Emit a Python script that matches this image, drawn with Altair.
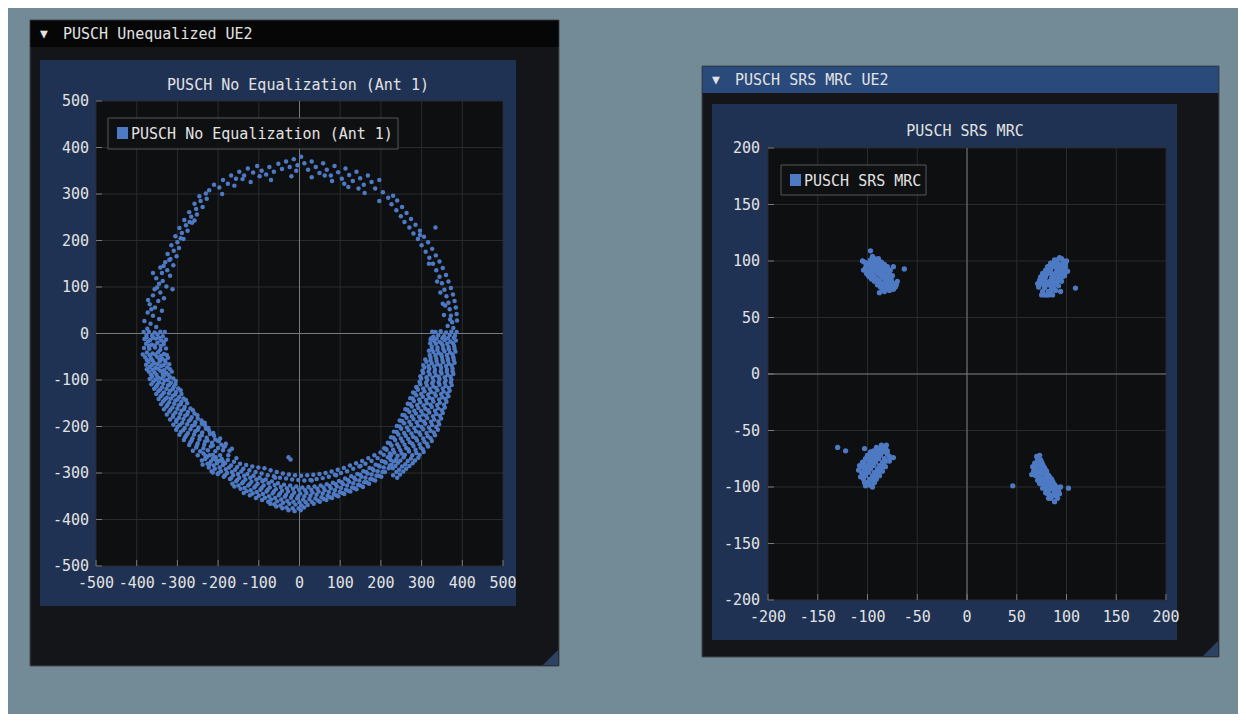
import altair as alt
import pandas as pd

# ---------------- data ----------------
left_ticks = [-500, -400, -300, -200, -100, 0, 100, 200, 300, 400, 500]
right_ticks = [-200, -150, -100, -50, 0, 50, 100, 150, 200]

ring_upper_left = [
    [-374, 10], [-352, 14], [-366, 21], [-381, 27], [-345, 31], [-360, 38], [-373, 45], [-338, 49],
    [-355, 56], [-368, 63], [-347, 70], [-333, 76], [-360, 82], [-342, 88], [-356, 95], [-327, 101],
    [-345, 107], [-336, 113], [-352, 119], [-318, 124], [-338, 130], [-325, 136], [-342, 142], [-310, 147],
    [-330, 153], [-317, 160], [-302, 166], [-324, 171], [-309, 178], [-296, 184], [-315, 190], [-300, 196],
    [-285, 203], [-305, 209], [-289, 216], [-275, 221], [-295, 227], [-279, 233], [-264, 238], [-283, 244],
    [-266, 251], [-252, 256], [-271, 261], [-254, 268], [-238, 272], [-258, 279], [-243, 285], [-228, 290],
    [-246, 295], [-230, 301], [-258, 243], [-312, 95], [-372, 72], [-360, 130], [-364, 52], [-350, 99],
    [-334, 145], [-320, 158], [-292, 205], [-270, 240],
]
ring_top = [
    [-222, 308], [-210, 320], [-197, 314], [-188, 330], [-176, 322], [-168, 340], [-156, 333], [-148, 348],
    [-136, 340], [-127, 355], [-114, 346], [-104, 360], [-93, 350], [-82, 342], [-74, 358], [-63, 348],
    [-52, 365], [-43, 354], [-33, 370], [-24, 358], [-14, 375], [-5, 362], [4, 380], [12, 366],
    [21, 352], [30, 370], [40, 358], [49, 345], [58, 366], [67, 352], [77, 340], [86, 360],
    [95, 347], [104, 333], [113, 355], [122, 341], [131, 328], [140, 348], [149, 334], [158, 320],
    [168, 340], [177, 326], [186, 312], [196, 330], [-160, 318], [-120, 326], [-70, 330], [-20, 338],
    [30, 336], [80, 328], [120, 315], [160, 302], [-190, 300], [-140, 332], [-98, 338], [-8, 350],
    [62, 340], [110, 322], [145, 312],
]
ring_upper_right = [
    [205, 304], [218, 292], [196, 285], [230, 296], [226, 278], [240, 286], [238, 265], [252, 272],
    [249, 252], [263, 259], [258, 240], [274, 246], [270, 228], [285, 234], [280, 215], [296, 221],
    [291, 203], [306, 208], [300, 190], [316, 196], [310, 176], [326, 182], [319, 163], [335, 168],
    [328, 150], [344, 155], [336, 136], [352, 141], [344, 122], [360, 126], [350, 108], [366, 112],
    [356, 94], [372, 98], [361, 80], [377, 84], [366, 66], [381, 70], [369, 52], [384, 56],
    [372, 38], [386, 42], [375, 24], [387, 28], [378, 12], [364, 16], [352, 64], [346, 88],
    [355, 40], [338, 112], [334, 228], [296, 212], [318, 150], [358, 60], [370, 30],
]
ring_lower_left = [
    [-383, 3], [-370, 4], [-356, 2], [-342, 4], [-331, 3], [-376, -3], [-362, -5], [-349, -2], [-336, -6],
    [-381, -12], [-367, -14], [-353, -11], [-340, -15], [-328, -13],
    [-377, -22], [-363, -24], [-349, -20], [-334, -23],
    [-382, -31], [-369, -33], [-355, -30], [-342, -35], [-328, -32],
    [-375, -41], [-361, -43], [-347, -40], [-333, -44],
    [-379, -51], [-365, -53], [-350, -50], [-337, -55], [-323, -52],
    [-371, -61], [-357, -64], [-343, -60], [-329, -63],
    [-368, -72], [-354, -74], [-340, -70], [-325, -73],
    [-370, -82], [-356, -84], [-342, -80], [-327, -85], [-314, -82],
    [-362, -93], [-347, -95], [-333, -91], [-318, -94],
    [-359, -103], [-345, -105], [-331, -101], [-316, -106], [-304, -102],
    [-352, -114], [-338, -116], [-323, -112], [-309, -115],
    [-347, -124], [-333, -127], [-318, -123], [-303, -126], [-292, -122],
    [-341, -135], [-326, -138], [-311, -134], [-296, -137],
    [-335, -146], [-320, -148], [-305, -144], [-290, -147], [-279, -143],
    [-327, -157], [-312, -159], [-297, -155], [-282, -158],
    [-320, -168], [-305, -170], [-290, -166], [-274, -169], [-262, -165],
    [-311, -179], [-296, -181], [-281, -177], [-265, -180], [-251, -176],
    [-303, -190], [-288, -192], [-272, -188], [-256, -191], [-241, -187],
    [-300, -201], [-282, -203], [-264, -199], [-248, -202], [-232, -198],
    [-292, -212], [-274, -214], [-256, -210], [-239, -213], [-222, -209],
    [-281, -223], [-263, -225], [-245, -221], [-228, -224], [-210, -220], [-195, -226],
    [-268, -234], [-250, -236], [-232, -232], [-215, -235], [-198, -231], [-181, -237],
    [-254, -245], [-236, -247], [-218, -243], [-200, -246], [-183, -242], [-166, -248],
]
ring_lower_left_fill = [
    [-376, -8], [-360, -9], [-345, -9], [-333, -18], [-372, -17], [-356, -26], [-370, -27], [-341, -27],
    [-385, -45], [-368, -47], [-354, -45], [-340, -48], [-326, -46], [-375, -57], [-361, -58], [-344, -56],
    [-330, -58], [-377, -67], [-363, -68], [-349, -66], [-334, -68], [-320, -66], [-375, -77], [-361, -78],
    [-347, -76], [-333, -79], [-318, -77], [-365, -88], [-351, -89], [-336, -87], [-322, -89], [-368, -98],
    [-353, -99], [-339, -97], [-324, -100], [-310, -97], [-364, -109], [-349, -110], [-335, -108], [-320, -110],
    [-305, -109], [-357, -119], [-343, -121], [-327, -119], [-312, -120], [-298, -118], [-352, -130], [-337, -131],
    [-321, -129], [-306, -131], [-290, -130], [-346, -141], [-331, -142], [-316, -140], [-300, -142], [-285, -140],
    [-340, -152], [-324, -153], [-308, -151], [-292, -152], [-276, -150], [-333, -163], [-317, -164], [-300, -162],
    [-284, -163], [-268, -161], [-326, -174], [-310, -175], [-293, -173], [-276, -174], [-258, -172], [-318, -185],
    [-302, -186], [-285, -184], [-268, -185], [-250, -183], [-233, -192], [-310, -196], [-294, -197], [-276, -195],
    [-258, -196], [-240, -194], [-224, -203], [-303, -207], [-286, -208], [-268, -206], [-250, -207], [-230, -205],
    [-212, -214], [-295, -218], [-278, -219], [-259, -217], [-240, -219], [-220, -216], [-200, -231], [-284, -229],
    [-265, -230], [-246, -228], [-226, -230], [-207, -228], [-186, -244], [-271, -240], [-252, -241], [-234, -239],
    [-213, -241], [-192, -239], [-172, -252], [-262, -252], [-244, -253], [-225, -251], [-207, -253], [-188, -251],
    [-250, -262], [-231, -263], [-213, -261], [-195, -262], [-175, -262], [-240, -273], [-221, -281], [-205, -272],
    [-188, -275], [-155, -268],
]
ring_bottom = [
    [-236, -258], [-232, -270], [-238, -282],
    [-221, -262], [-218, -275], [-223, -288], [-216, -296],
    [-206, -266], [-203, -279], [-208, -291], [-201, -302],
    [-191, -270], [-188, -283], [-193, -296], [-186, -308],
    [-176, -272], [-173, -288], [-178, -300], [-171, -313],
    [-161, -276], [-158, -293], [-163, -305], [-156, -318], [-160, -329],
    [-146, -280], [-143, -297], [-148, -310], [-141, -322], [-145, -334],
    [-131, -283], [-128, -302], [-133, -314], [-126, -327], [-130, -339],
    [-116, -286], [-113, -306], [-118, -319], [-111, -331], [-115, -344],
    [-101, -288], [-98, -310], [-103, -323], [-96, -336], [-100, -349],
    [-86, -290], [-83, -314], [-88, -327], [-81, -340], [-85, -353],
    [-71, -294], [-68, -318], [-73, -331], [-66, -344], [-70, -357], [-72, -366],
    [-56, -298], [-53, -322], [-58, -335], [-51, -348], [-55, -361], [-57, -372],
    [-41, -301], [-38, -325], [-43, -338], [-36, -351], [-40, -364], [-42, -376],
    [-26, -303], [-23, -327], [-28, -340], [-21, -353], [-25, -366], [-27, -380],
    [-11, -305], [-8, -329], [-13, -342], [-6, -355], [-10, -368], [-12, -382],
    [4, -306], [7, -331], [2, -344], [9, -357], [5, -370], [3, -380],
    [19, -305], [22, -330], [17, -343], [24, -356], [20, -369],
    [34, -304], [37, -329], [32, -342], [39, -355], [35, -366],
    [49, -302], [52, -327], [47, -340], [54, -352], [50, -362],
    [64, -300], [67, -324], [62, -337], [69, -349], [66, -358],
    [79, -297], [82, -321], [77, -333], [84, -345], [80, -354],
    [94, -293], [97, -317], [92, -329], [99, -341], [95, -350],
    [109, -289], [112, -312], [107, -324], [114, -336], [110, -345],
    [124, -284], [127, -307], [122, -319], [129, -331], [125, -340],
    [139, -279], [142, -302], [137, -314], [144, -326], [140, -335],
    [154, -274], [157, -296], [152, -308], [159, -320], [156, -330],
    [169, -268], [172, -289], [167, -301], [174, -313], [171, -323],
    [184, -262], [187, -282], [182, -294], [189, -306], [186, -316],
    [199, -256], [202, -274], [197, -286], [204, -298], [201, -308],
    [214, -250], [217, -266], [212, -278], [219, -290],
    [-22, -271], [-27, -266], [-90, -316], [-60, -310], [30, -316], [90, -305], [150, -285],
]
ring_bottom_fill = [
    [-228, -266], [-226, -280], [-213, -270], [-211, -284], [-213, -299], [-198, -274], [-196, -288], [-199, -300],
    [-183, -279], [-181, -292], [-183, -305], [-168, -284], [-166, -298], [-168, -311], [-165, -323], [-153, -287],
    [-151, -302], [-153, -315], [-150, -327], [-138, -291], [-136, -306], [-138, -319], [-135, -332], [-137, -343],
    [-123, -294], [-121, -310], [-123, -324], [-120, -337], [-122, -348], [-108, -298], [-106, -314], [-108, -328],
    [-105, -341], [-107, -354], [-93, -301], [-91, -318], [-93, -332], [-90, -345], [-92, -358], [-78, -305],
    [-76, -322], [-78, -336], [-75, -350], [-77, -362], [-63, -307], [-61, -326], [-63, -340], [-60, -354],
    [-62, -367], [-48, -310], [-46, -330], [-48, -344], [-45, -357], [-47, -370], [-33, -312], [-31, -333],
    [-33, -347], [-30, -360], [-32, -374], [-18, -314], [-16, -334], [-18, -348], [-15, -362], [-17, -376],
    [-3, -315], [-1, -336], [-3, -350], [0, -363], [-2, -376], [12, -316], [14, -337], [12, -350],
    [15, -363], [11, -374], [27, -315], [29, -336], [27, -349], [30, -362], [42, -313], [44, -334],
    [42, -347], [45, -359], [57, -311], [59, -331], [57, -344], [60, -356], [72, -308], [74, -328],
    [72, -341], [75, -352], [87, -304], [89, -324], [87, -337], [90, -348], [102, -300], [104, -320],
    [102, -332], [105, -343], [117, -296], [119, -315], [117, -327], [120, -338], [132, -291], [134, -310],
    [132, -322], [135, -333], [147, -286], [149, -304], [147, -316], [150, -327], [162, -280], [164, -298],
    [162, -310], [165, -320], [177, -274], [179, -291], [177, -303], [180, -314], [192, -268], [194, -284],
    [192, -296], [195, -306], [207, -261], [209, -276], [207, -288], [210, -298], [222, -258], [224, -272],
    [222, -284],
]
ring_lower_right = [
    [386, 3], [373, 4], [360, 2], [347, 5], [334, 3], [326, 4],
    [382, -5], [369, -3], [355, -6], [341, -4], [329, -7],
    [384, -15], [371, -17], [357, -14], [344, -18], [331, -16], [322, -13],
    [380, -27], [366, -29], [352, -26], [339, -30], [325, -28],
    [383, -39], [370, -41], [356, -38], [342, -42], [329, -40], [318, -37],
    [378, -51], [364, -53], [350, -50], [336, -54], [322, -52],
    [381, -63], [367, -65], [353, -62], [339, -66], [325, -64], [312, -61],
    [376, -75], [362, -77], [348, -74], [333, -78], [319, -76], [307, -73],
    [378, -87], [364, -89], [349, -86], [335, -90], [320, -88], [304, -85],
    [373, -99], [359, -101], [344, -98], [329, -102], [314, -100], [299, -97],
    [374, -111], [359, -113], [344, -110], [329, -114], [313, -112], [297, -109], [287, -115],
    [369, -123], [354, -125], [339, -122], [323, -126], [307, -124], [291, -121], [279, -127],
    [366, -135], [351, -137], [335, -134], [319, -138], [303, -136], [287, -133], [272, -139],
    [361, -147], [345, -149], [329, -146], [313, -150], [297, -148], [281, -145], [266, -151],
    [357, -159], [341, -161], [325, -158], [309, -162], [292, -160], [276, -157], [260, -163],
    [352, -171], [336, -173], [319, -170], [303, -174], [286, -172], [270, -169], [253, -175],
    [348, -183], [331, -185], [314, -182], [297, -186], [280, -184], [263, -181], [246, -187],
    [343, -195], [326, -197], [309, -194], [291, -198], [274, -196], [257, -193], [239, -199],
    [340, -207], [322, -209], [304, -206], [286, -210], [268, -208], [250, -205], [232, -211],
    [333, -219], [315, -221], [297, -218], [279, -222], [261, -220], [243, -217], [225, -223],
    [325, -231], [307, -233], [289, -230], [271, -234], [253, -232], [235, -229], [217, -235],
    [316, -243], [298, -245], [280, -242], [262, -246], [244, -244], [226, -241], [208, -247],
    [305, -255], [287, -257], [269, -254], [251, -258], [233, -256],
    [292, -267], [274, -269], [256, -266], [238, -270], [222, -268],
    [278, -279], [260, -281], [242, -278], [226, -282],
    [262, -291], [245, -293], [229, -290],
    [247, -303], [230, -305],
]
ring_lower_right_fill = [
    [379, -9], [365, -10], [351, -10], [337, -11], [324, -10], [377, -21], [363, -22], [349, -21],
    [335, -22], [321, -21], [381, -33], [367, -34], [353, -33], [339, -35], [325, -34], [376, -45],
    [362, -46], [348, -45], [334, -47], [320, -46], [379, -57], [365, -58], [351, -57], [337, -59],
    [322, -58], [309, -56], [374, -69], [360, -70], [346, -69], [331, -71], [317, -70], [304, -68],
    [376, -81], [362, -82], [347, -81], [332, -83], [317, -82], [302, -80], [371, -93], [357, -94],
    [342, -93], [327, -95], [312, -94], [297, -92], [372, -105], [357, -106], [342, -105], [326, -107],
    [311, -106], [295, -104], [367, -117], [352, -118], [336, -117], [320, -119], [304, -118], [288, -116],
    [363, -129], [348, -130], [332, -129], [316, -131], [299, -130], [283, -128], [359, -141], [343, -142],
    [327, -141], [311, -143], [294, -142], [278, -140], [355, -153], [338, -154], [322, -153], [305, -155],
    [289, -154], [272, -152], [350, -165], [333, -166], [316, -165], [299, -167], [282, -166], [265, -164],
    [345, -177], [328, -178], [311, -177], [294, -179], [276, -178], [258, -176], [341, -189], [323, -190],
    [306, -189], [288, -191], [270, -190], [252, -188], [336, -201], [318, -202], [300, -201], [282, -203],
    [264, -202], [246, -200], [330, -213], [312, -214], [294, -213], [275, -215], [257, -214], [239, -212],
    [322, -225], [304, -226], [286, -225], [267, -227], [249, -226], [231, -224], [313, -237], [295, -238],
    [277, -237], [258, -239], [240, -238], [222, -236], [303, -249], [285, -250], [267, -249], [248, -251],
    [230, -250], [212, -248], [295, -261], [277, -262], [259, -261], [241, -263], [225, -262], [284, -273],
    [266, -274], [248, -273], [232, -275], [270, -285], [252, -286], [236, -285], [255, -297], [238, -298],
    [240, -310],
]

mrc_top_left = [
    [-100, 98], [-97, 95], [-94, 93], [-91, 90], [-88, 88], [-85, 85], [-82, 82], [-79, 80], [-76, 77], [-74, 75],
    [-97, 101], [-94, 99], [-91, 96], [-88, 93], [-85, 91], [-82, 88], [-79, 86], [-76, 83], [-73, 80],
    [-102, 94], [-99, 91], [-96, 89], [-93, 86], [-90, 84], [-87, 81], [-84, 79], [-81, 76], [-78, 74],
    [-93, 102], [-90, 99], [-87, 97], [-84, 94], [-81, 92], [-78, 89],
    [-99, 87], [-96, 84], [-93, 82], [-90, 79], [-87, 77], [-83, 73],
    [-103, 99], [-101, 96], [-98, 98], [-95, 96], [-92, 93], [-89, 91], [-86, 88], [-83, 86], [-80, 83],
    [-77, 80], [-75, 78], [-72, 77], [-95, 104], [-92, 101], [-89, 102], [-86, 99], [-83, 97], [-80, 95],
    [-77, 92], [-75, 87], [-101, 89], [-98, 86], [-95, 87], [-92, 84], [-89, 82], [-86, 79], [-83, 77],
    [-80, 78], [-85, 75], [-104, 92], [-71, 79], [-96, 92],
    [-97, 109], [-74, 95], [-63, 93], [-88, 72], [-105, 100], [-70, 82],
]
mrc_top_right = [
    [76, 73], [78, 76], [80, 79], [83, 82], [85, 85], [87, 88], [90, 91], [92, 94], [94, 97], [97, 100],
    [72, 77], [74, 80], [77, 83], [79, 86], [81, 89], [84, 92], [86, 95], [89, 98], [91, 101],
    [80, 70], [82, 73], [85, 76], [87, 79], [89, 82], [92, 85], [94, 88], [97, 91], [99, 95],
    [74, 86], [76, 89], [79, 92], [81, 95], [84, 98],
    [86, 70], [89, 74], [92, 78], [95, 82], [98, 87], [101, 91],
    [75, 70], [77, 79], [79, 82], [82, 79], [84, 82], [86, 82], [88, 85], [91, 88], [93, 91], [95, 94],
    [96, 97], [99, 98], [73, 83], [75, 83], [78, 89], [80, 92], [83, 95], [86, 98], [88, 101], [82, 70],
    [84, 73], [87, 76], [90, 80], [93, 83], [96, 86], [99, 90], [71, 80], [78, 70], [95, 102], [89, 95],
    [91, 97], [85, 89],
    [109, 76], [94, 73], [93, 103], [100, 100],
]
mrc_bottom_left = [
    [-104, -93], [-102, -90], [-99, -87], [-97, -84], [-94, -81], [-92, -78], [-89, -75], [-87, -72], [-84, -69], [-82, -66],
    [-106, -87], [-103, -84], [-101, -81], [-98, -78], [-96, -75], [-93, -72], [-91, -69], [-88, -66], [-86, -63],
    [-100, -96], [-98, -93], [-95, -90], [-93, -87], [-90, -84], [-88, -81], [-85, -78], [-83, -75], [-80, -71],
    [-108, -81], [-105, -78], [-102, -75], [-100, -72], [-97, -69],
    [-96, -99], [-93, -96], [-91, -93], [-88, -90], [-85, -86], [-82, -82], [-78, -77],
    [-107, -91], [-105, -88], [-102, -86], [-100, -83], [-97, -80], [-95, -77], [-92, -74], [-90, -71],
    [-87, -68], [-84, -65], [-81, -63], [-109, -85], [-106, -82], [-104, -79], [-101, -76], [-99, -74],
    [-96, -71], [-94, -68], [-91, -65], [-102, -99], [-99, -98], [-97, -95], [-94, -92], [-92, -89],
    [-89, -87], [-86, -83], [-84, -80], [-81, -77], [-78, -73], [-103, -96], [-95, -100], [-80, -68],
    [-130, -65], [-122, -68], [-103, -66], [-74, -74],
]
mrc_bottom_right = [
    [71, -76], [73, -80], [75, -83], [77, -87], [79, -90], [81, -94], [83, -97], [86, -101], [88, -104], [90, -108],
    [75, -78], [77, -82], [79, -85], [81, -89], [83, -92], [85, -96], [87, -99], [89, -102], [92, -105],
    [68, -79], [70, -82], [72, -86], [74, -89], [76, -93], [78, -96], [80, -99], [82, -103], [85, -107],
    [80, -86], [82, -90], [85, -93], [87, -97], [90, -100], [92, -103],
    [67, -86], [69, -90], [71, -94], [73, -97], [76, -101], [79, -105], [82, -110],
    [70, -73], [72, -77], [74, -81], [76, -84], [78, -88], [80, -91], [82, -95], [84, -99], [87, -102],
    [89, -106], [91, -110], [69, -84], [71, -88], [73, -91], [75, -95], [77, -98], [79, -101], [81, -106],
    [84, -110], [78, -83], [80, -88], [83, -91], [86, -95], [88, -98], [91, -101], [93, -106], [66, -82],
    [65, -89], [86, -108], [94, -100], [76, -80], [74, -76],
    [46, -99], [102, -101], [73, -72], [88, -113],
]

# ---------------- style ----------------
OFF = 8
FONT = "DejaVu Sans Mono"
FS = 15
BG = "#738b97"
WIN = "#141518"
WIN_BORDER = "#44484d"
TITLE_INACTIVE = "#060606"
TITLE_ACTIVE = "#294a7b"
FRAME = "#1f3253"
PLOT = "#0e0f11"
GRID = "#2a2b2e"
ZERO = "#77797c"
TICK = "#77797c"
TXT = "#e2e2e2"
PT = "#4e7ac4"
GRIP = "#2c4262"


def one():
    return alt.Data(values=[{"k": 0}])


def box(x1, y1, x2, y2, fill, stroke=None, sw=1.0, opacity=1.0):
    kw = dict(fill=fill, fillOpacity=opacity)
    if stroke:
        kw.update(stroke=stroke, strokeWidth=sw)
    return alt.Chart(one()).mark_rect(**kw).encode(
        x=alt.value(x1 - OFF), x2=alt.value(x2 - OFF),
        y=alt.value(y1 - OFF), y2=alt.value(y2 - OFF))


def label(txt, x, y, align="left", size=FS, color=TXT):
    return alt.Chart(one()).mark_text(
        text=txt, align=align, baseline="middle", font=FONT, fontSize=size, color=color
    ).encode(x=alt.value(x - OFF), y=alt.value(y - OFF))


def grip(cx, cy):
    return alt.Chart(one()).mark_point(
        shape="M1,-1L1,1L-1,1Z", filled=True, size=225, color=GRIP, opacity=1
    ).encode(x=alt.value(cx - OFF), y=alt.value(cy - OFF))


def lin(domain, a, b):
    return alt.Scale(domain=domain, range=[a - OFF, b - OFF], nice=False, zero=False)


def tick_df(vals):
    return pd.DataFrame({"v": vals, "t": [str(v) for v in vals]})


def plot_layers(ticks, dom, xa, xb, yb, ya, points, title, tcx, tcy,
                xlab_y, ylab_x, leg, legend_text, psize):
    """xa..xb: pixel x-range of the plot area, ya..yb: pixel y-range (top..bottom)."""
    xs = lin(dom, xa, xb)
    ys = lin(dom, yb, ya)
    td = tick_df(ticks)
    zd = tick_df([0])
    layers = [box(xa, ya, xb, yb, PLOT)]
    layers.append(alt.Chart(td).mark_rule(color=GRID, strokeWidth=1).encode(
        x=alt.X("v:Q", scale=xs, axis=None), y=alt.value(ya - OFF), y2=alt.value(yb - OFF)))
    layers.append(alt.Chart(td).mark_rule(color=GRID, strokeWidth=1).encode(
        y=alt.Y("v:Q", scale=ys, axis=None), x=alt.value(xa - OFF), x2=alt.value(xb - OFF)))
    layers.append(alt.Chart(zd).mark_rule(color=ZERO, strokeWidth=1).encode(
        x=alt.X("v:Q", scale=xs, axis=None), y=alt.value(ya - OFF), y2=alt.value(yb - OFF)))
    layers.append(alt.Chart(zd).mark_rule(color=ZERO, strokeWidth=1).encode(
        y=alt.Y("v:Q", scale=ys, axis=None), x=alt.value(xa - OFF), x2=alt.value(xb - OFF)))
    # small tick marks on the inner edges
    layers.append(alt.Chart(td).mark_rule(color=TICK, strokeWidth=1).encode(
        x=alt.X("v:Q", scale=xs, axis=None), y=alt.value(yb - 6 - OFF), y2=alt.value(yb - OFF)))
    layers.append(alt.Chart(td).mark_rule(color=TICK, strokeWidth=1).encode(
        y=alt.Y("v:Q", scale=ys, axis=None), x=alt.value(xa - OFF), x2=alt.value(xa + 6 - OFF)))
    # tick labels
    layers.append(alt.Chart(td).mark_text(
        font=FONT, fontSize=FS, color=TXT, align="center", baseline="middle").encode(
        x=alt.X("v:Q", scale=xs, axis=None), y=alt.value(xlab_y - OFF), text="t:N"))
    layers.append(alt.Chart(td).mark_text(
        font=FONT, fontSize=FS, color=TXT, align="right", baseline="middle").encode(
        y=alt.Y("v:Q", scale=ys, axis=None), x=alt.value(ylab_x - OFF), text="t:N"))
    # scatter
    pdf = pd.DataFrame(points, columns=["x", "y"])
    layers.append(alt.Chart(pdf).mark_circle(size=psize, opacity=1, color=PT).encode(
        x=alt.X("x:Q", scale=xs, axis=None), y=alt.Y("y:Q", scale=ys, axis=None)))
    # title
    layers.append(label(title, tcx, tcy, align="center"))
    # legend
    lx1, ly1, lx2, ly2 = leg
    layers.append(box(lx1, ly1, lx2, ly2, "#101113", stroke="#55585c", opacity=0.9))
    layers.append(box(lx1 + 9, ly1 + 9, lx1 + 20, ly1 + 21, PT))
    layers.append(label(legend_text, lx1 + 23, (ly1 + ly2) / 2 + 0.5))
    return layers


left_points = (ring_upper_left + ring_top + ring_upper_right + ring_lower_left + ring_lower_left_fill
               + ring_bottom + ring_bottom_fill + ring_lower_right + ring_lower_right_fill)
right_points = mrc_top_left + mrc_top_right + mrc_bottom_left + mrc_bottom_right

layers = []
# ---- left window ----
layers.append(box(30, 20, 559, 666, WIN, stroke=WIN_BORDER))
layers.append(box(30.5, 20.5, 558.5, 47, TITLE_INACTIVE))
layers.append(label("\u25bc", 44, 34, align="center", size=13))
layers.append(label("PUSCH Unequalized UE2", 63, 34))
layers.append(box(40, 60, 516, 606, FRAME))
layers += plot_layers(left_ticks, [-500, 500], 96, 503, 566, 101, left_points,
                      "PUSCH No Equalization (Ant 1)", 298, 85, 583, 89,
                      (108, 118, 398, 149), "PUSCH No Equalization (Ant 1)", 20)
layers.append(grip(550.5, 657.5))

# ---- right window ----
layers.append(box(702, 66, 1219, 657, WIN, stroke=WIN_BORDER))
layers.append(box(702.5, 66.5, 1218.5, 93, TITLE_ACTIVE))
layers.append(label("\u25bc", 716, 80, align="center", size=13))
layers.append(label("PUSCH SRS MRC UE2", 735, 80))
layers.append(box(712, 104, 1177, 640, FRAME))
layers += plot_layers(right_ticks, [-200, 200], 768, 1166, 600, 148, right_points,
                      "PUSCH SRS MRC", 965, 131, 617, 760,
                      (781, 165, 926, 195), "PUSCH SRS MRC", 28)
layers.append(grip(1210.5, 648.5))

chart = alt.layer(*layers).resolve_scale(
    x="independent", y="independent"
).properties(
    width=1230, height=706, padding=0, autosize=alt.AutoSizeParams(type="none")
).configure(background=BG).configure_view(stroke=None)

chart.save("out.html", embed_options={"renderer": "svg", "actions": False})
